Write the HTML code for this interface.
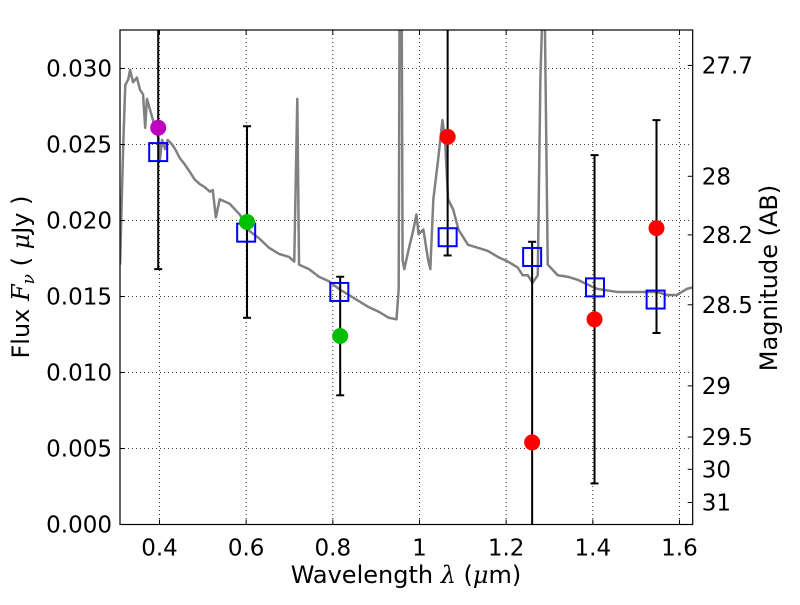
<!DOCTYPE html>
<html><head><meta charset="utf-8"><style>
body{margin:0;background:#fff;}
svg text{font-family:"DejaVu Sans","Liberation Sans",sans-serif;fill:#000;}
</style></head><body>
<svg id="chart" width="800" height="600" xmlns="http://www.w3.org/2000/svg">
<rect width="800" height="600" fill="#fff"/>
<g id="grid"></g>
<g id="plot"></g>
<g id="axes"></g>
<text x="406" y="583" font-size="24" text-anchor="middle">Wavelength  <tspan font-style="italic" font-family="DejaVu Serif,serif">λ</tspan> (<tspan font-style="italic" font-family="DejaVu Serif,serif">μ</tspan>m)</text>
<text transform="translate(29,277) rotate(-90)" font-size="24" text-anchor="middle">Flux  <tspan font-style="italic" font-family="DejaVu Serif,serif">F</tspan><tspan font-style="italic" font-family="DejaVu Serif,serif" font-size="17" dy="5">ν</tspan><tspan dy="-5">  ( </tspan><tspan font-style="italic" font-family="DejaVu Serif,serif">μ</tspan>Jy )</text>
<text transform="translate(777,278) rotate(-90)" font-size="24" text-anchor="middle">Magnitude (AB)</text>
</svg>
<script>
const specLam=[0.309,0.316,0.321,0.328,0.332,0.339,0.348,0.355,0.362,0.367,0.371,0.378,0.385,0.390,0.397,0.401,0.406,0.413,0.419,0.429,0.436,0.447,0.458,0.470,0.481,0.493,0.504,0.516,0.523,0.530,0.539,0.562,0.585,0.608,0.631,0.653,0.676,0.699,0.711,0.718,0.722,0.745,0.768,0.791,0.814,0.837,0.860,0.883,0.906,0.929,0.947,0.952,0.954,0.959,0.961,0.965,0.975,0.986,0.993,0.998,1.009,1.020,1.025,1.032,1.043,1.053,1.059,1.066,1.078,1.090,1.112,1.135,1.158,1.181,1.204,1.227,1.238,1.250,1.261,1.273,1.279,1.284,1.289,1.296,1.319,1.342,1.365,1.387,1.410,1.456,1.502,1.548,1.571,1.594,1.617,1.631];
const specFlux=[0.0171,0.0247,0.0289,0.0293,0.0299,0.0291,0.0294,0.0286,0.0283,0.0261,0.0280,0.0273,0.0266,0.0260,0.0255,0.0240,0.0253,0.0247,0.0253,0.0250,0.0247,0.0241,0.0237,0.0232,0.0227,0.0224,0.0222,0.0219,0.0220,0.0202,0.0214,0.0211,0.0204,0.0193,0.0188,0.0182,0.0178,0.0176,0.0173,0.0280,0.0171,0.0168,0.0163,0.0160,0.0155,0.0151,0.0147,0.0143,0.0140,0.0136,0.0135,0.0155,0.0340,0.0340,0.0174,0.0168,0.0181,0.0194,0.0204,0.0191,0.0194,0.0174,0.0168,0.0214,0.0240,0.0266,0.0253,0.0214,0.0207,0.0194,0.0184,0.0182,0.0180,0.0176,0.0173,0.0169,0.0164,0.0164,0.0159,0.0164,0.0293,0.0340,0.0340,0.0171,0.0164,0.0163,0.0161,0.0158,0.0155,0.0153,0.0153,0.0153,0.0151,0.0151,0.0155,0.0156];
const modelLam=[0.397,0.600,0.815,1.065,1.260,1.405,1.545];
const modelFlux=[0.0245,0.0192,0.0153,0.0189,0.0176,0.0156,0.0148];
const obsLam=[0.397,0.602,0.817,1.065,1.260,1.404,1.547];
const obsFlux=[0.0261,0.0199,0.0124,0.0255,0.0054,0.0135,0.0195];
const obsLo=[0.0168,0.0136,0.0085,0.0177,-0.001,0.0027,0.0126];
const obsHi=[0.0360,0.0262,0.0163,0.0360,0.0186,0.0243,0.0266];
const obsColor=["#bf00bf","#00bf00","#00bf00","#ff0000","#ff0000","#ff0000","#ff0000"];
const xTicks=[0.4,0.6,0.8,1.0,1.2,1.4,1.6];
const xTickLabels=["0.4","0.6","0.8","1","1.2","1.4","1.6"];
const yTicks=[0,0.005,0.010,0.015,0.020,0.025,0.030];
const yTickLabels=["0.000","0.005","0.010","0.015","0.020","0.025","0.030"];
const magTicks=[27.7,28,28.2,28.5,29,29.5,30,31];
const magTickLabels=["27.7","28","28.2","28.5","29","29.5","30","31"];

const L=120,R=692.7,T=30,B=524.5;
const xs=l=>159.5+(l-0.4)*433.3;
const ys=f=>B-f*15200;
const magToFlux=m=>Math.pow(10,(23.9-m)/2.5);
const NS="http://www.w3.org/2000/svg";
function mk(p,tag,a){const e=document.createElementNS(NS,tag);for(const k in a)e.setAttribute(k,a[k]);p.appendChild(e);return e;}
const svg=document.getElementById('chart');
const defs=mk(svg,'defs',{});
const cp=mk(defs,'clipPath',{id:'clip'});mk(cp,'rect',{x:L,y:T,width:R-L,height:B-T});
const grid=document.getElementById('grid'),plot=document.getElementById('plot'),axes=document.getElementById('axes');
plot.setAttribute('clip-path','url(#clip)');
xTicks.forEach((v,i)=>{const x=xs(v);
 const g=mk(grid,'line',{x1:x,x2:x,y1:T,y2:B,stroke:'#000','stroke-width':0.8,'stroke-dasharray':'1,3'});
 
 mk(axes,'line',{x1:x,x2:x,y1:B,y2:B-5,stroke:'#000'});mk(axes,'line',{x1:x,x2:x,y1:T,y2:T+5,stroke:'#000'});
 const t=mk(axes,'text',{x:x,y:B+31,'font-size':23,'text-anchor':'middle'});t.textContent=xTickLabels[i];
 });
yTicks.forEach((v,i)=>{const y=ys(v);
 if(v>0){const g=mk(grid,'line',{x1:L,x2:R,y1:y,y2:y,stroke:'#000','stroke-width':0.8,'stroke-dasharray':'1,3'});
 }
 mk(axes,'line',{x1:L,x2:L+5,y1:y,y2:y,stroke:'#000'});
 const t=mk(axes,'text',{x:L-8,y:y+8,'font-size':23,'text-anchor':'end'});t.textContent=yTickLabels[i];
 });
magTicks.forEach((m,i)=>{const y=ys(magToFlux(m));
 mk(axes,'line',{x1:R,x2:R-5,y1:y,y2:y,stroke:'#000'});
 const t=mk(axes,'text',{x:R+9,y:y+8,'font-size':23});t.textContent=magTickLabels[i];
 });
const fr=mk(axes,'rect',{x:L,y:T,width:R-L,height:B-T,fill:'none',stroke:'#000','stroke-width':1.2});

const sp=mk(plot,'polyline',{points:specLam.map((l,i)=>xs(l)+','+ys(specFlux[i])).join(' '),fill:'none',stroke:'#808080','stroke-width':2.5,'stroke-linejoin':'round'});

obsLam.forEach((l,i)=>{const x=xs(l);
 const e=mk(plot,'line',{x1:x,x2:x,y1:ys(obsLo[i]),y2:ys(obsHi[i]),stroke:'#000','stroke-width':2});
 
 [obsLo[i],obsHi[i]].forEach(v=>mk(plot,'line',{x1:x-4,x2:x+4,y1:ys(v),y2:ys(v),stroke:'#000','stroke-width':2}));});
modelLam.forEach((l,i)=>{const s=mk(plot,'rect',{x:xs(l)-9,y:ys(modelFlux[i])-9,width:18,height:18,fill:'none',stroke:'#0000ff','stroke-width':2});
 });
obsLam.forEach((l,i)=>{const c=mk(plot,'circle',{cx:xs(l),cy:ys(obsFlux[i]),r:8,fill:obsColor[i]});
 });
</script>
</body></html>
